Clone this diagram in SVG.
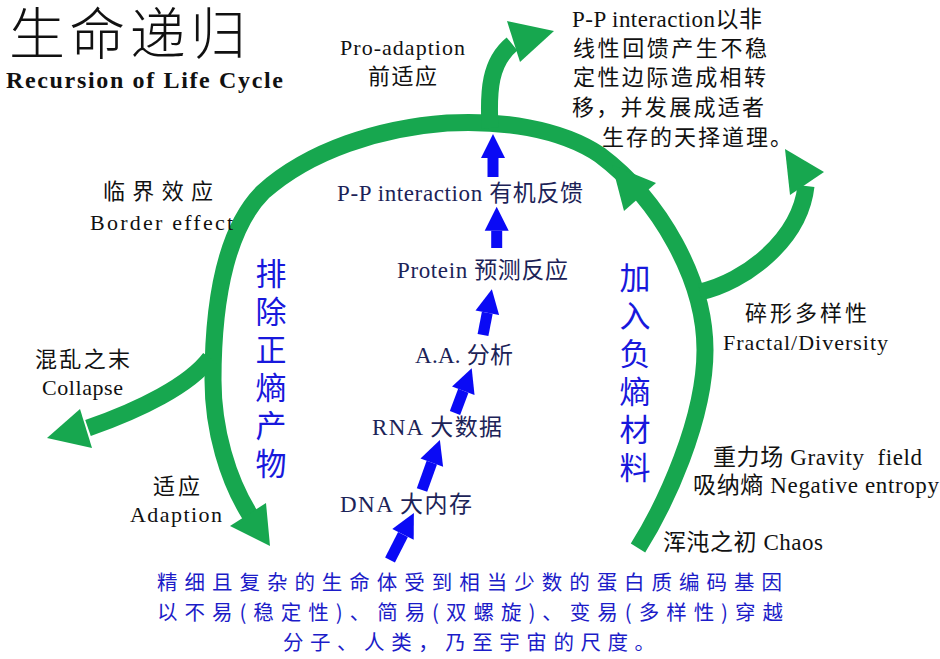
<svg xmlns="http://www.w3.org/2000/svg" width="940" height="659" viewBox="0 0 940 659">
<style>
.en{font-family:"Liberation Serif","Noto Sans CJK SC",serif;font-size:24px;}
.cj{font-family:"Liberation Serif","Noto Sans CJK SC",sans-serif;}
.blk{fill:#111;font-size:22px;}
.mx{font-size:23px;}
.navy{fill:#1c2358;font-size:23px;}
.vb{fill:#1818dc;font-size:31px;font-family:"Noto Sans CJK SC",sans-serif;writing-mode:vertical-rl;letter-spacing:7px;}
.bp{fill:#1c1cc8;font-size:20.5px;font-family:"Noto Sans CJK SC",sans-serif;}
.g{fill:none;stroke:#17a74f;stroke-width:17;stroke-linecap:butt;}
.gh{fill:#17a74f;}
.ba{stroke:#0a0af5;stroke-width:11;marker-end:url(#bh);}
</style>
<defs>
<marker id="bh" markerUnits="userSpaceOnUse" markerWidth="26" markerHeight="26" viewBox="0 -13 24 26" refX="0" refY="0" orient="auto">
<path d="M0,-12 L24,0 L0,12 Z" fill="#0a0af5"/>
</marker>
</defs>
<g id="title">
<text x="9" y="54" font-family="Noto Sans CJK SC, sans-serif" font-size="56" font-weight="300" fill="#111" textLength="237">生命递归</text>
<text x="6" y="88" font-family="Liberation Serif, serif" font-weight="bold" font-size="24" fill="#111" textLength="277">Recursion of Life Cycle</text>
</g>
<g id="connectors">
<path class="g" d="M 638 548 C 665 505 705 420 705 350 C 705 280 660 200 600 155 C 560 128 500 120 447 123 C 380 128 310 150 263 192 C 230 225 213 290 213 380 C 213 430 228 480 250 515"/>
<polygon class="gh" points="230,526 266,503 270,546"/>
<polygon class="gh" points="612,165 656,183 624,211"/>
<path class="g" d="M 490 128 C 488 90 490 62 512 44"/>
<polygon class="gh" points="507,21 520,62 554,31"/>
<path class="g" d="M 700 292 C 745 282 800 240 806 186"/>
<polygon class="gh" points="824,172 790,195 785,149"/>
<path class="g" d="M 210 358 C 190 385 140 410 88 428"/>
<polygon class="gh" points="80,409 92,448 47,438"/>
<line class="ba" x1="390" y1="560" x2="403" y2="534.4"/>
<line class="ba" x1="422" y1="490" x2="431.8" y2="462.6"/>
<line class="ba" x1="455" y1="413" x2="463.3" y2="390.8"/>
<line class="ba" x1="483" y1="335" x2="487.3" y2="312.7"/>
<line class="ba" x1="496.7" y1="248" x2="496.7" y2="230.7"/>
<line class="ba" x1="493" y1="177" x2="493" y2="158"/>
</g>
<g id="pro-adaption">
<text class="en blk" x="340" y="55" font-size="24" textLength="125">Pro-adaption</text>
<text class="cj blk" x="368" y="84" textLength="69">前适应</text>
</g>
<g id="pp-note">
<text class="cj blk mx" x="572" y="27" textLength="190">P-P interaction以非</text>
<text class="cj blk" x="573" y="56" textLength="194">线性回馈产生不稳</text>
<text class="cj blk" x="573" y="85" textLength="193">定性边际造成相转</text>
<text class="cj blk" x="572" y="115" textLength="192">移，并发展成适者</text>
<text class="cj blk" x="602" y="145" textLength="190">生存的天择道理。</text>
</g>
<g id="border">
<text class="cj blk" x="103" y="199" textLength="110">临界效应</text>
<text class="en blk" x="90" y="230" font-size="25" textLength="143">Border effect</text>
</g>
<g id="collapse">
<text class="cj blk" x="35" y="367" textLength="95">混乱之末</text>
<text class="en blk" x="42" y="395" font-size="23" textLength="81">Collapse</text>
</g>
<g id="adaption">
<text class="cj blk" x="153" y="494" textLength="47">适应</text>
<text class="en blk" x="130" y="522" font-size="24" textLength="92">Adaption</text>
</g>
<g id="fractal">
<text class="cj blk" x="745" y="321" textLength="122">碎形多样性</text>
<text class="en blk" x="723" y="350" font-size="24" textLength="165">Fractal/Diversity</text>
</g>
<g id="gravity">
<text class="cj blk mx" x="713" y="465" textLength="209" style="white-space:pre">重力场 Gravity  field</text>
<text class="cj blk mx" x="693" y="493" textLength="246">吸纳熵 Negative entropy</text>
</g>
<g id="chaos">
<text class="cj blk mx" x="663" y="550" textLength="160">浑沌之初 Chaos</text>
</g>
<g id="pp">
<text class="cj navy" x="337" y="201" textLength="246">P-P interaction 有机反馈</text>
</g>
<g id="protein">
<text class="cj navy" x="397" y="278" textLength="171">Protein 预测反应</text>
</g>
<g id="aa">
<text class="cj navy" x="415" y="363" textLength="98">A.A. 分析</text>
</g>
<g id="rna">
<text class="cj navy" x="372" y="435" textLength="130">RNA 大数据</text>
</g>
<g id="dna">
<text class="cj navy" x="340" y="512" textLength="132">DNA 大内存</text>
</g>
<g id="remove-entropy">
<text class="vb" x="271" y="258">排除正熵产物</text>
</g>
<g id="add-negentropy">
<text class="vb" x="635" y="262">加入负熵材料</text>
</g>
<g id="summary">
<text class="bp" x="157" y="590" textLength="625">精细且复杂的生命体受到相当少数的蛋白质编码基因</text>
<text class="bp" x="157" y="620" textLength="626">以不易(稳定性)、简易(双螺旋)、变易(多样性)穿越</text>
<text class="bp" x="283" y="650" textLength="372">分子、人类，乃至宇宙的尺度。</text>
</g>
</svg>
